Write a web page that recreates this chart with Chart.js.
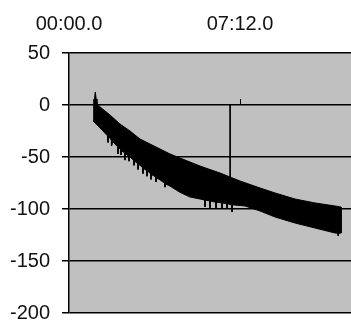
<!DOCTYPE html>
<html>
<head>
<meta charset="utf-8">
<script src="https://cdn.jsdelivr.net/npm/chart.js@4/dist/chart.umd.min.js"></script>
<style>
  html, body { margin: 0; padding: 0; background: #fff; }
  #wrap { width: 351px; height: 322px; overflow: hidden; position: relative; }
  #box { width: 440px; height: 330px; position: absolute; left: 0; top: 0; }
</style>
</head>
<body>
<div id="wrap"><div id="box"><canvas id="myLineChart"></canvas></div></div>
<script>
// Time (seconds) of the x tick labels
var xTicks = [0, 432];
// y tick range
var yTicks = [-200, -150, -100, -50, 0, 50];

// Upper edge of the noisy band
var upperTime = [61, 64.4, 66.4, 68.7, 70.7, 78.3, 103.6, 128.8, 154.1, 179.4, 204.6, 229.9, 255.2, 280.4, 331, 381.5, 432, 482.5, 520.4, 570.9, 621.5, 672, 687.2];
var upperVal  = [4.8, 5.8, 12.5, 5.8, 1.9, -1.9, -9.6, -18.3, -25, -32.7, -37.5, -42.3, -47.1, -51, -58.7, -65.4, -73.1, -79.8, -84.6, -90.4, -94.2, -97.1, -98.1];

// Lower edge of the noisy band (with the downward spikes)
var lowerTime = [61, 78.3, 97, 98.5, 100, 103.6, 107, 108.6, 110, 122.3, 123.8, 125.3, 128.8, 130, 131.4, 133,
                 140, 141.5, 143, 150, 151.6, 153, 154.1, 162.7, 164.2, 165.7, 172.8, 174.3, 175.8, 179.4,
                 185.4, 186.9, 188.4, 195.5, 197, 198.5, 204.6, 205.7, 207.2, 208.7, 218.3, 219.8, 221.3, 229.9,
                 241, 242.5, 244, 255.2, 280.4, 305.7, 331, 342, 343.6, 345, 354.7, 356.2, 357.7, 368.8,
                 370, 371.4, 373, 385, 386.5, 388, 397.7, 399.2, 400.7, 406.7, 410.3, 411.8, 413.3,
                 444.6, 482.5, 520.4, 570.9, 621.5, 672, 678, 679.6, 682, 687.2];
var lowerVal  = [-15.4, -22, -29.5, -36, -30, -32, -34, -39, -35, -40, -47, -41, -42, -43, -48, -44,
                 -46, -53, -47, -49, -54, -49.5, -50, -53, -58, -54, -56, -62, -57, -58,
                 -60, -66, -61, -63, -68.5, -64, -65, -66, -71.5, -67, -69, -74, -70, -72,
                 -75, -79, -76, -78, -84, -88.5, -90.4, -91.3, -98.1, -91.5, -92.1, -99, -92.4, -93.3,
                 -93.4, -99, -93.6, -94.1, -100, -94.3, -94.8, -99, -95, -95.7, -95.9, -102.9, -96,
                 -97.1, -101.9, -107.7, -113.5, -118.3, -123.1, -123.2, -126, -123.2, -123.1];

// Single vertical dropout line
var dropTime = [407, 407];
var dropVal  = [0, -95];

function pts(t, v) {
    return t.map(function (x, i) { return { x: x, y: v[i] }; });
}

// closed outline: along the upper edge, back along the lower edge
var bandPts = pts(upperTime, upperVal).concat(pts(lowerTime, lowerVal).reverse());

function fmtTime(s) {
    var m = Math.floor(s / 60), sec = s - m * 60;
    return String(m).padStart(2, '0') + ':' + String(sec).padStart(2, '0') + '.0';
}

var plotBg = {
    id: 'plotBg',
    beforeDraw: function (chart) {
        var a = chart.chartArea, c = chart.ctx;
        c.save();
        c.fillStyle = '#c0c0c0';
        c.fillRect(a.left, a.top, a.right - a.left, a.bottom - a.top);
        c.restore();
    },
    afterDatasetsDraw: function (chart) {
        // small tick mark on the category axis (which crosses at 0)
        var c = chart.ctx, xs = chart.scales.x, ys = chart.scales.y;
        var y0 = ys.getPixelForValue(0);
        c.save();
        c.strokeStyle = '#000';
        c.lineWidth = 1;
        xTicks.forEach(function (t) {
            if (t === 0) return;
            var px = Math.round(xs.getPixelForValue(t)) + 0.5;
            c.beginPath();
            c.moveTo(px, y0);
            c.lineTo(px, y0 - 6);
            c.stroke();
        });
        c.restore();
    }
};

var font = { family: 'Liberation Sans, Arial, sans-serif', size: 20 };

var ctx = document.getElementById('myLineChart').getContext('2d');
var myLineChart = new Chart(ctx, {
    type: 'line',
    plugins: [plotBg],
    data: {
        datasets: [{
            data: bandPts,
            borderColor: '#000',
            borderWidth: 1,
            pointRadius: 0,
            backgroundColor: '#000',
            fill: 'shape'
        }, {
            data: pts(dropTime, dropVal),
            borderColor: '#000',
            borderWidth: 1,
            pointRadius: 0,
            fill: false
        }]
    },
    options: {
        responsive: true,
        maintainAspectRatio: false,
        animation: false,
        events: [],
        layout: { padding: { left: 0, right: 0, top: 0, bottom: 17 } },
        plugins: { legend: { display: false }, tooltip: { enabled: false } },
        scales: {
            x: {
                type: 'linear',
                position: 'top',
                min: 0,
                max: 937,
                afterBuildTicks: function (scale) {
                    scale.ticks = xTicks.map(function (v) { return { value: v }; });
                },
                afterFit: function (scale) {
                    scale.height = 53;
                    scale.paddingLeft = 0;
                    scale.paddingRight = 0;
                },
                grid: { display: false, drawTicks: false },
                border: { display: false },
                ticks: {
                    font: font,
                    color: '#111',
                    padding: 17,
                    maxRotation: 0,
                    callback: function (v) { return fmtTime(v); }
                }
            },
            y: {
                min: -200,
                max: 50,
                afterBuildTicks: function (scale) {
                    scale.ticks = yTicks.map(function (v) { return { value: v }; });
                },
                afterFit: function (scale) {
                    scale.width = 69;
                    scale.paddingTop = 0;
                    scale.paddingBottom = 0;
                },
                grid: { color: '#000', lineWidth: 1.5, tickLength: 7, drawTicks: true },
                border: { display: true, color: '#000', width: 1.5 },
                ticks: { font: font, color: '#111', padding: 12 }
            }
        }
    }
});
</script>
</body>
</html>
